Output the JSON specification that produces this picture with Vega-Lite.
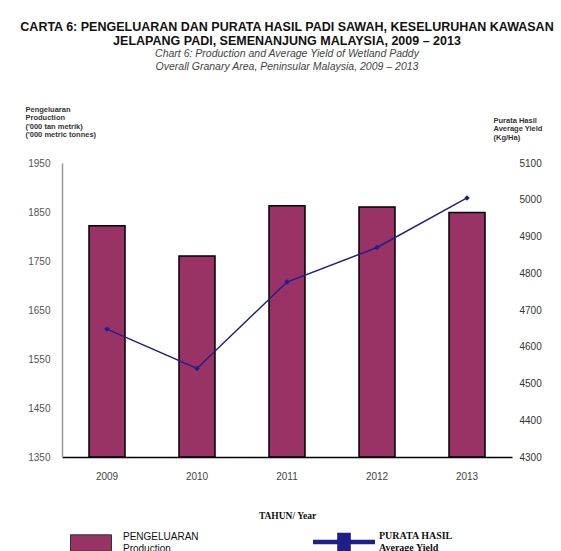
{
  "$schema": "https://vega.github.io/schema/vega-lite/v6.json",
  "autosize": {"type": "none"},
  "width": 450,
  "height": 294,
  "padding": {"left": 62, "top": 163, "right": 49, "bottom": 94},
  "background": "white",
  "title": {
    "text": ["CARTA 6: PENGELUARAN DAN PURATA HASIL PADI SAWAH, KESELURUHAN KAWASAN", "JELAPANG PADI, SEMENANJUNG MALAYSIA, 2009 – 2013"],
    "subtitle": ["Chart 6: Production and Average Yield of Wetland Paddy", "Overall Granary Area, Peninsular Malaysia, 2009 – 2013"],
    "anchor": "middle",
    "frame": "group",
    "font": "Liberation Sans",
    "fontSize": 12.5,
    "fontWeight": "bold",
    "color": "#111",
    "lineHeight": 14,
    "subtitleFont": "Liberation Sans",
    "subtitleFontSize": 10.5,
    "subtitleFontStyle": "italic",
    "subtitleColor": "#444",
    "subtitleLineHeight": 13,
    "subtitlePadding": 1,
    "offset": 33
  },
  "data": {
    "values": [
      {"year": "2009", "production": 1822, "yield": 4648},
      {"year": "2010", "production": 1760, "yield": 4541},
      {"year": "2011", "production": 1863, "yield": 4776},
      {"year": "2012", "production": 1860, "yield": 4870},
      {"year": "2013", "production": 1849, "yield": 5005}
    ]
  },
  "encoding": {
    "x": {
      "field": "year",
      "type": "ordinal",
      "scale": {"paddingInner": 0.6, "paddingOuter": 0.3},
      "axis": {
        "title": "TAHUN/ Year",
        "titleFont": "Liberation Serif",
        "titleFontSize": 9.5,
        "titleFontWeight": "bold",
        "titleColor": "#111",
        "titlePadding": 29,
        "labelAngle": 0,
        "labelFont": "Liberation Sans",
        "labelFontSize": 10,
        "labelColor": "#444",
        "labelPadding": 14,
        "ticks": false,
        "domainColor": "#000",
        "domainWidth": 1.5
      }
    }
  },
  "layer": [
    {
      "mark": {"type": "bar", "stroke": "#000", "strokeWidth": 1.5},
      "encoding": {
        "y": {
          "field": "production",
          "type": "quantitative",
          "scale": {"domain": [1350, 1950], "nice": false, "zero": false},
          "axis": {
            "values": [1350, 1450, 1550, 1650, 1750, 1850, 1950],
            "format": "d",
            "grid": false,
            "ticks": false,
            "domainColor": "#999",
            "domainWidth": 1.5,
            "labelFont": "Liberation Sans",
            "labelFontSize": 10,
            "labelColor": "#555",
            "labelPadding": 12,
            "title": ["Pengeluaran", "Production", "('000 tan metrik)", "('000 metric tonnes)"],
            "titleAngle": 0,
            "titleAlign": "left",
            "titleBaseline": "top",
            "titleX": -37,
            "titleY": -58,
            "titleFont": "Liberation Sans",
            "titleFontSize": 7.5,
            "titleFontWeight": "bold",
            "titleColor": "#333",
            "titleLineHeight": 8.5
          }
        },
        "y2": {"datum": 1350},
        "fill": {
          "datum": "PENGELUARAN|Production",
          "type": "nominal",
          "scale": {"range": ["#993366"]},
          "legend": {
            "title": null,
            "orient": "none",
            "legendX": 8,
            "legendY": 359,
            "padding": 0,
            "symbolType": "M-1,-0.4H1V0.4H-1Z",
            "symbolSize": 1681,
            "symbolStrokeColor": "#333",
            "symbolStrokeWidth": 1,
            "labelOffset": 11,
            "labelFont": "Liberation Sans",
            "labelFontSize": 10,
            "labelColor": "#111",
            "labelExpr": "split(datum.label, '|')",
            "encode": {"labels": {"update": {"dy": {"value": -6}}}}
          }
        }
      }
    },
    {
      "mark": {
        "type": "line",
        "strokeWidth": 1.5,
        "point": {"shape": "diamond", "size": 30, "filled": true}
      },
      "encoding": {
        "y": {
          "field": "yield",
          "type": "quantitative",
          "scale": {"domain": [4300, 5100], "nice": false, "zero": false},
          "axis": {
            "orient": "right",
            "values": [4300, 4400, 4500, 4600, 4700, 4800, 4900, 5000, 5100],
            "format": "d",
            "grid": false,
            "ticks": false,
            "domain": false,
            "labelFont": "Liberation Sans",
            "labelFontSize": 10,
            "labelColor": "#333",
            "labelPadding": 7,
            "title": ["Purata Hasil", "Average Yield", "(Kg/Ha)"],
            "titleAngle": 0,
            "titleAlign": "left",
            "titleBaseline": "top",
            "titleX": -19,
            "titleY": -47,
            "titleFont": "Liberation Sans",
            "titleFontSize": 7.5,
            "titleFontWeight": "bold",
            "titleColor": "#333",
            "titleLineHeight": 8.5
          }
        },
        "color": {
          "datum": "PURATA HASIL|Average Yield",
          "type": "nominal",
          "scale": {"range": ["#1f1f8a"]},
          "legend": {
            "title": null,
            "orient": "none",
            "legendX": 251,
            "legendY": 348,
            "padding": 0,
            "symbolType": "M-1,-0.07H1V0.07H-1Z M-0.22,-0.3H0.22V0.3H-0.22Z",
            "symbolSize": 3844,
            "labelOffset": 4,
            "labelFont": "Liberation Serif",
            "labelFontSize": 10,
            "labelFontWeight": "bold",
            "labelColor": "#111",
            "labelExpr": "split(datum.label, '|')",
            "encode": {
              "symbols": {"update": {"fill": {"value": "#0000ff"}, "stroke": {"value": "#0000ff"}, "strokeWidth": {"value": 0}, "opacity": {"value": 1}}},
              "labels": {"update": {"dy": {"value": -6}}}
            }
          }
        }
      }
    }
  ],
  "resolve": {"scale": {"y": "independent"}},
  "config": {"view": {"stroke": null}}
}
